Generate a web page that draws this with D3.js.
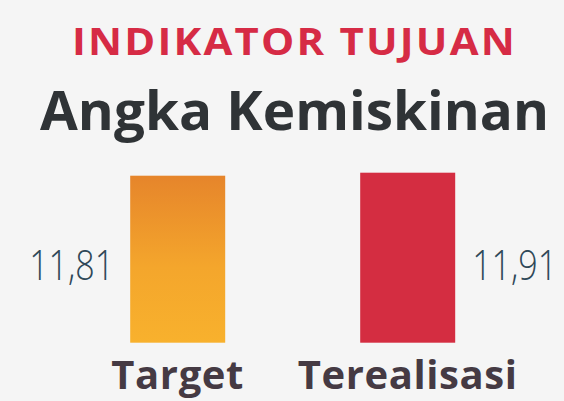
<!DOCTYPE html>
<html>
<head>
<meta charset="utf-8">
<script src="https://cdn.jsdelivr.net/npm/d3@7"></script>
<style>
  html, body { margin: 0; padding: 0; background: #f5f5f5; }
  svg { display: block; font-family: "Open Sans", Lato, sans-serif; }
</style>
</head>
<body>
<div id="chart"></div>
<script>
// data
const categories = ["Target", "Terealisasi"];
const values = [11.81, 11.91];
const valueLabels = ["11,81", "11,91"];
const kicker = "INDIKATOR TUJUAN";
const title = "Angka Kemiskinan";

const width = 564;
const height = 401;

const svg = d3.select("#chart").append("svg")
    .attr("width", width)
    .attr("height", height);

svg.append("rect")
    .attr("width", width)
    .attr("height", height)
    .attr("fill", "#f5f5f5");

// gradient for the target bar
const defs = svg.append("defs");
const grad = defs.append("linearGradient")
    .attr("id", "orangeGrad")
    .attr("x1", 0).attr("y1", 0)
    .attr("x2", 0).attr("y2", 1);
grad.append("stop").attr("offset", "0%").attr("stop-color", "#e6852b");
grad.append("stop").attr("offset", "55%").attr("stop-color", "#f4a62c");
grad.append("stop").attr("offset", "100%").attr("stop-color", "#f8b12d");

const barFills = ["url(#orangeGrad)", "#d42d41"];

// headings
svg.append("text")
    .attr("x", 72)
    .attr("y", 54.7)
    .attr("font-size", 38)
    .attr("font-weight", 700)
    .attr("letter-spacing", 2)
    .attr("fill", "#d62b45")
    .attr("textLength", 445)
    .attr("lengthAdjust", "spacingAndGlyphs")
    .text(kicker);

svg.append("text")
    .attr("x", 40)
    .attr("y", 130)
    .attr("font-size", 54)
    .attr("font-weight", 700)
    .attr("fill", "#2f3336")
    .attr("textLength", 509)
    .attr("lengthAdjust", "spacingAndGlyphs")
    .text(title);

// scales
const x = d3.scalePoint()
    .domain(categories)
    .range([177.7, 407.7]);

const barW = 95;

const y = d3.scaleLinear()
    .domain([6.25, d3.max(values)])
    .range([342.7, 172.7]);

const rows = categories.map((c, i) => ({name: c, value: values[i], label: valueLabels[i], fill: barFills[i], i: i}));

svg.append("g")
  .selectAll("rect")
    .data(rows)
    .join(
        enter => enter.append("rect")
            .attr("x", d => x(d.name) - barW / 2)
            .attr("y", d => y(d.value))
            .attr("width", barW)
            .attr("height", d => y.range()[0] - y(d.value))
            .attr("fill", d => d.fill)
    );

// value labels: first one on the left, second on the right
svg.append("g")
  .selectAll("text")
    .data(rows)
    .join(
        enter => enter.append("text")
            .attr("x", d => d.i === 0 ? x(d.name) - barW / 2 - 16 : x(d.name) + barW / 2 + 17)
            .attr("y", 280)
            .attr("text-anchor", d => d.i === 0 ? "end" : "start")
            .attr("font-size", 42)
            .attr("font-weight", 300)
            .attr("fill", "#2f4858")
            .attr("textLength", 85)
            .attr("lengthAdjust", "spacingAndGlyphs")
            .text(d => d.label)
    );

// category labels
svg.append("g")
  .selectAll("text")
    .data(rows)
    .join(
        enter => enter.append("text")
            .attr("x", d => x(d.name))
            .attr("y", 388.7)
            .attr("text-anchor", "middle")
            .attr("font-size", 40)
            .attr("font-weight", 700)
            .attr("letter-spacing", 0.6)
            .attr("fill", "#453a43")
            .text(d => d.name)
    );
</script>
</body>
</html>
